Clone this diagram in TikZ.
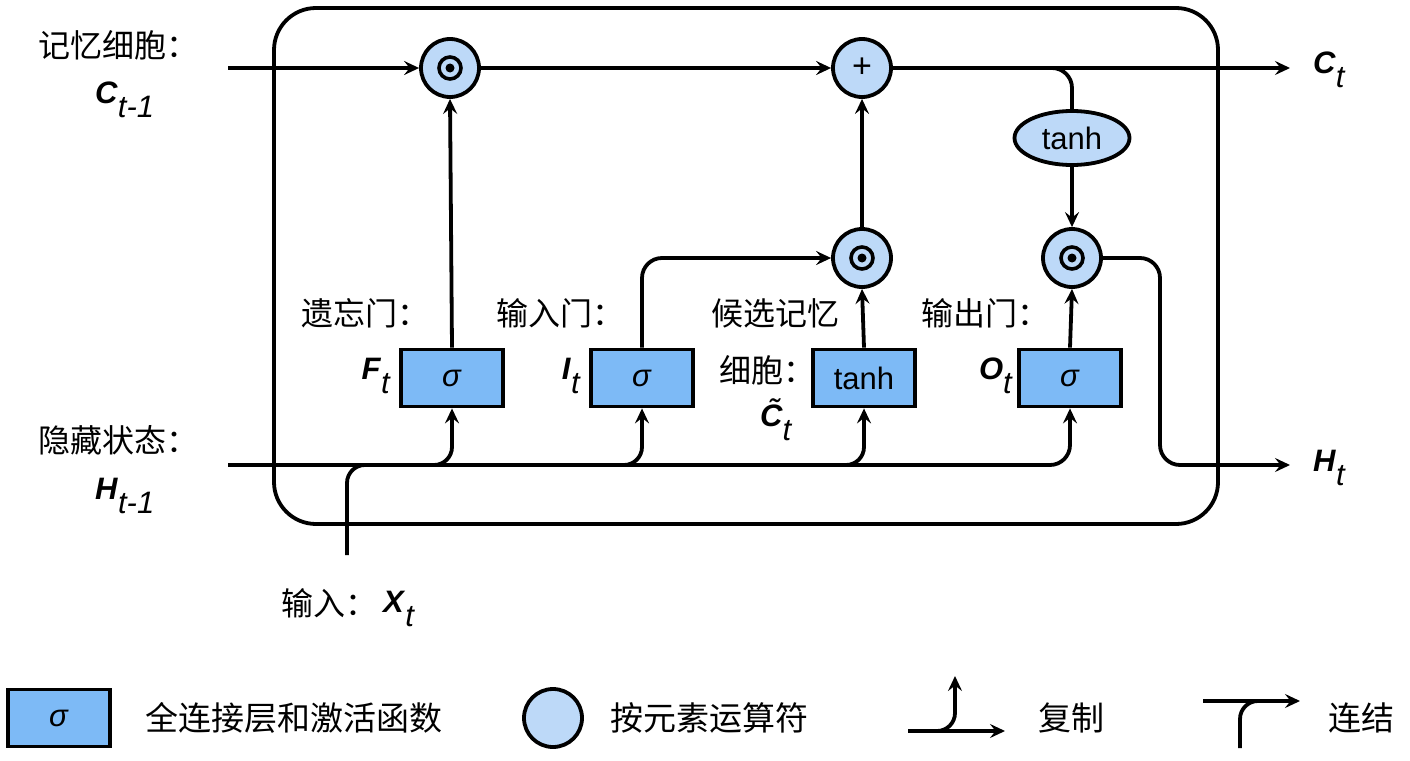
\documentclass[tikz,border=0pt]{standalone}
\usepackage{fontspec}
\setmainfont{Liberation Sans}
\newfontfamily\cjk{Noto Sans CJK SC}
\usetikzlibrary{arrows.meta,shapes.geometric}
\definecolor{boxblue}{HTML}{7DBAF6}
\definecolor{circblue}{HTML}{BDD9F8}
\newcommand\lbl[2]{\textbf{\textit{#1}}\raisebox{-0.45em}{\textit{#2}}}
\tikzset{
 ln/.style={line width=3.8pt},
 arr/.style={line width=3.8pt, -{Stealth[length=15pt,width=14pt,inset=5.5pt]}},
 fcbox/.style={draw, line width=3.8pt, fill=boxblue, minimum width=102pt, minimum height=57pt, inner sep=0pt, font=\fontsize{31}{31}\selectfont},
 opc/.style={draw, circle, line width=3.8pt, fill=circblue, minimum size=58pt, inner sep=0pt},
 odot/.style={opc, path picture={\draw[black, line width=3.6pt] (path picture bounding box.center) circle (11pt); \fill[black] (path picture bounding box.center) circle (4.5pt);}},
 act/.style={draw, ellipse, line width=3.8pt, fill=circblue, minimum width=115pt, minimum height=54pt, inner sep=0pt, font=\fontsize{31}{31}\selectfont},
 zh/.style={font=\cjk\fontsize{32}{34}\selectfont, inner sep=0pt},
 zhl/.style={font=\cjk\fontsize{33}{35}\selectfont, inner sep=0pt},
 var/.style={font=\fontsize{31}{31}\selectfont, inner sep=0pt},
}
\begin{document}
\begin{tikzpicture}[x=1pt,y=-1pt]
\useasboundingbox (0,0) rectangle (1410,760);
\fill[white] (0,0) rectangle (1410,760);
% cell frame
\draw[ln, rounded corners=42pt] (274,8) rectangle (1218,524);
% operators
\node[odot] (fc) at (450,68) {};
\node[opc, font=\fontsize{34}{34}\selectfont] (pc) at (862,68) {+};
\node[odot] (ic) at (862,258) {};
\node[odot] (oc) at (1072,258) {};
\node[act] (th) at (1072,138) {tanh};
% layers
\node[fcbox] (fb) at (452,378) {\textit{σ}};
\node[fcbox] (ib) at (642,378) {\textit{σ}};
\node[fcbox] (cb) at (864,378) {tanh};
\node[fcbox] (ob) at (1070,378) {\textit{σ}};
% coordinates
\coordinate (cin) at (228,68);
\coordinate (cout) at (1290,68);
\coordinate (tb) at (1025,68);
\coordinate (hin) at (228,465);
\coordinate (hturn) at (1160,465);
\coordinate (hout) at (1290,465);
\coordinate (bf) at (405,465);
\coordinate (bi) at (595,465);
\coordinate (bc) at (817,465);
\coordinate (xin) at (347,555);
\coordinate (xj) at (420,465);
% connectors
\draw[arr] (cin) -- (fc.west);
\draw[arr] (fc.east) -- (pc.west);
\draw[arr] (pc.east) -- (cout);
\draw[ln, rounded corners=20pt] (tb) -| (th.north);
\draw[arr] (th.south) -- (oc.north);
\draw[arr] (fb.north) -- (fc.south);
\draw[arr, rounded corners=20pt] (ib.north) |- (ic.west);
\draw[arr] (cb.north) -- (ic.south);
\draw[arr] (ic.north) -- (pc.south);
\draw[arr] (ob.north) -- (oc.south);
\draw[arr, rounded corners=20pt] (oc.east) -| (hturn) -- (hout);
\draw[arr, rounded corners=20pt] (hin) -| (ob.south);
\draw[arr, rounded corners=18pt] (bf) -| (fb.south);
\draw[arr, rounded corners=18pt] (bi) -| (ib.south);
\draw[arr, rounded corners=18pt] (bc) -| (cb.south);
\draw[ln, rounded corners=18pt] (xin) |- (xj);
% labels
\node[zh] (l1) at (118,45) {记忆细胞：};
\node[var, anchor=west] (l2) at (95,100) {\lbl{C}{t-1}};
\node[zh] (l3) at (118,440) {隐藏状态：};
\node[var, anchor=west] (l4) at (95,496) {\lbl{H}{t-1}};
\node[zh] (l5) at (365,313) {遗忘门：};
\node[var, anchor=east] (l6) at (391,376) {\lbl{F}{t}};
\node[zh] (l7) at (560,313) {输入门：};
\node[var, anchor=east] (l8) at (581,376) {\lbl{I}{t}};
\node[zh] (l9) at (775,313) {候选记忆};
\node[zh] (l10) at (767,370) {细胞：};
\node[var, anchor=west] (l11) at (760,420) {\lbl{\~{C}}{t}};
\node[zh] (l12) at (985,313) {输出门：};
\node[var, anchor=east] (l13) at (1013,376) {\lbl{O}{t}};
\node[var, anchor=west] (l14) at (1313,70) {\lbl{C}{t}};
\node[var, anchor=west] (l15) at (1313,468) {\lbl{H}{t}};
\node[zh] (l16) at (329,603) {输入：};
\node[var, anchor=west] (l17) at (383,609) {\lbl{X}{t}};
% legend
\node[fcbox] (lb) at (59,718) {\textit{σ}};
\node[zhl, anchor=west] (lt1) at (145,718) {全连接层和激活函数};
\node[opc] (lcirc) at (553,718) {};
\node[zhl, anchor=west] (lt2) at (610,718) {按元素运算符};
\coordinate (cpa) at (908,731);
\coordinate (cpb) at (1005,731);
\coordinate (cpj) at (930,731);
\coordinate (cpt) at (955,676);
\draw[arr] (cpa) -- (cpb);
\draw[arr, rounded corners=18pt] (cpj) -| (cpt);
\node[zhl, anchor=west] (lt3) at (1038,718) {复制};
\coordinate (cca) at (1203,701);
\coordinate (ccb) at (1300,701);
\coordinate (ccj) at (1275,701);
\coordinate (ccs) at (1240,748);
\draw[arr] (cca) -- (ccb);
\draw[ln, rounded corners=18pt] (ccs) |- (ccj);
\node[zhl, anchor=west] (lt4) at (1328,718) {连结};
\end{tikzpicture}
\end{document}
